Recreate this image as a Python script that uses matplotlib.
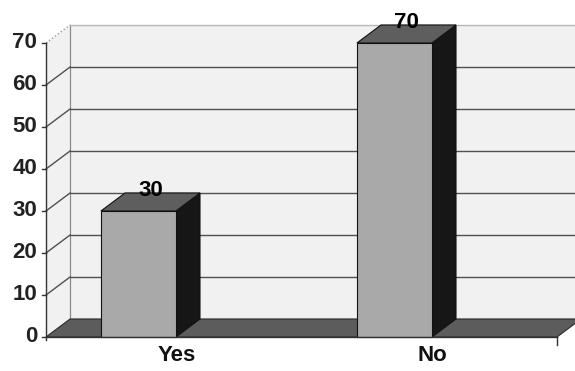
import matplotlib
matplotlib.use("Agg")
import matplotlib.pyplot as plt
from matplotlib.patches import Polygon

categories = ["Yes", "No"]
values = [30, 70]
yticks = [0, 10, 20, 30, 40, 50, 60, 70]

W, H = 575, 371
fig = plt.figure(figsize=(W / 100, H / 100), dpi=100)
fig.patch.set_facecolor("white")
ax = fig.add_axes([46 / W, 34 / H, 511 / W, 294 / H])
xmin, xmax = -0.361, 1.635
ymax = 70
ax.set_xlim(xmin, xmax)
ax.set_ylim(0, ymax)
ax.axis("off")

dx, dy = 0.094, 4.29
bw = 0.293
font = dict(family=["Liberation Sans", "DejaVu Sans"], fontweight="bold", fontsize=16)

wall_c = "#f1f1f1"
grid_c = "#505050"

def poly(pts, fc, ec="#111111", lw=0.8, z=1):
    ax.add_patch(Polygon(pts, closed=True, facecolor=fc, edgecolor=ec, lw=lw,
                         zorder=z, clip_on=False))

# back wall and left wall
poly([(xmin + dx, dy), (xmax + dx + 0.2, dy), (xmax + dx + 0.2, ymax + dy),
      (xmin + dx, ymax + dy)], wall_c, ec="none", z=1)
poly([(xmin, 0), (xmin + dx, dy), (xmin + dx, ymax + dy), (xmin, ymax)],
     wall_c, ec="none", z=1)
ax.plot([xmin + dx, xmin + dx], [dy, ymax + dy], color="#8a8a8a", lw=0.9,
        zorder=2, clip_on=False)

# gridlines
for v in yticks[1:]:
    top = v == ymax
    c = "#b8b8b8" if top else grid_c
    ax.plot([xmin + dx, xmax + dx + 0.2], [v + dy, v + dy], color=c, lw=1.0,
            zorder=2, clip_on=False)
    ax.plot([xmin, xmin + dx], [v, v + dy], color="#9a9a9a" if top else grid_c,
            lw=1.0, ls=":" if top else "-", zorder=2, clip_on=False)

# floor
poly([(xmin, 0), (xmax, 0), (xmax + dx, dy), (xmin + dx, dy)], "#5c5c5c",
     ec="#2a2a2a", lw=0.8, z=3)

# bars
for i, v in enumerate(values):
    l, r = i - bw / 2, i + bw / 2
    poly([(r, 0), (r + dx, dy), (r + dx, v + dy), (r, v)], "#161616", z=4)
    poly([(l, v), (r, v), (r + dx, v + dy), (l + dx, v + dy)], "#5e5e5e", z=4)
    poly([(l, 0), (r, 0), (r, v), (l, v)], "#a9a9a9", z=5)
    ax.text(i + dx / 2, v + dy + 0.6, str(v), ha="center", va="center",
            zorder=6, **font)

# front axis, ticks and labels
ax.plot([xmin, xmin], [-0.8, ymax], color="#333333", lw=1.0, zorder=6, clip_on=False)
ax.plot([xmin, xmax], [0, 0], color="#333333", lw=1.0, zorder=6, clip_on=False)
ax.plot([xmax, xmax], [0, -1.9], color="#333333", lw=1.0, zorder=6, clip_on=False)
for v in yticks:
    ax.plot([xmin - 0.016, xmin], [v, v], color="#333333", lw=1.0, zorder=6,
            clip_on=False)
    ax.text(xmin - 0.035, v, str(v), ha="right", va="center", color="#222222", **font)

for i, c in enumerate(categories):
    ax.text(i + 0.15, -4.3, c, ha="center", va="center", color="#111111", **font)

fig.savefig("out.png", dpi=100, facecolor=fig.get_facecolor())
